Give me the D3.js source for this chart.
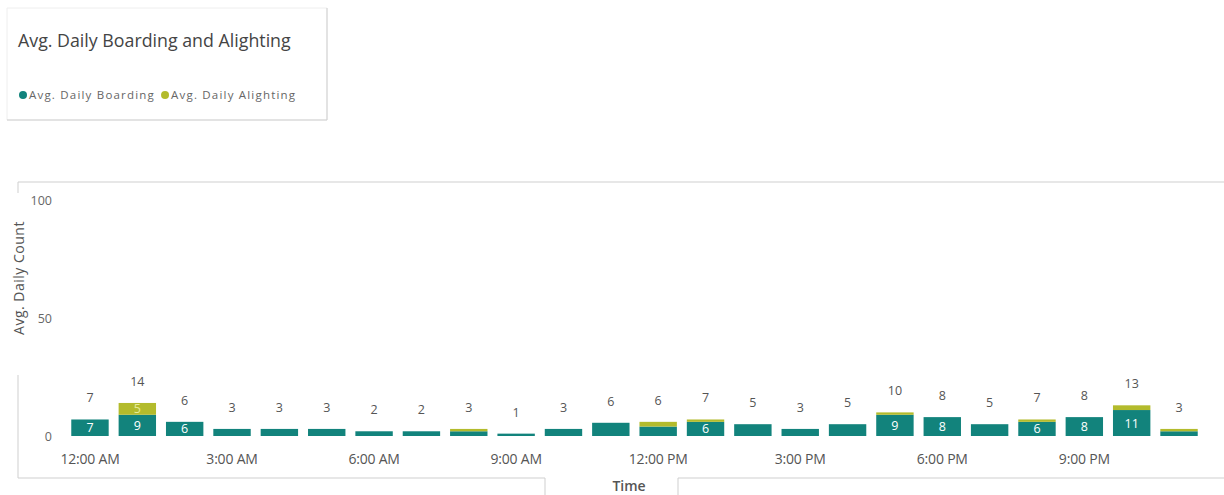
<!DOCTYPE html>
<html><head><meta charset="utf-8">
<script src="https://cdn.jsdelivr.net/npm/d3@7"></script>
<style>body{margin:0;background:#fff;}svg{display:block;font-family:"Open Sans",sans-serif;}</style>
</head><body>
<svg id="c" width="1224" height="495"></svg>
<script>
const hours = ["12:00 AM","1:00 AM","2:00 AM","3:00 AM","4:00 AM","5:00 AM","6:00 AM","7:00 AM","8:00 AM","9:00 AM","10:00 AM","11:00 AM","12:00 PM","1:00 PM","2:00 PM","3:00 PM","4:00 PM","5:00 PM","6:00 PM","7:00 PM","8:00 PM","9:00 PM","10:00 PM","11:00 PM"];
const boarding  = [7, 9, 6, 3, 3, 3, 2, 2, 2, 1, 3, 5.6, 4, 6, 5, 3, 5, 9, 8, 5, 6, 8, 11, 2];
const alighting = [0, 5, 0, 0, 0, 0, 0, 0, 1, 0, 0, 0, 2, 1, 0, 0, 0, 1, 0, 0, 1, 0, 2, 1];
const tickHours = ["12:00 AM","3:00 AM","6:00 AM","9:00 AM","12:00 PM","3:00 PM","6:00 PM","9:00 PM"];
const yTicks = [0, 50, 100];
const seriesNames = ["Avg. Daily Boarding","Avg. Daily Alighting"];
const colors = ["#12837c","#b3bb2c"];

const svg = d3.select("#c");
const grey = "#cfcfcf";

// legend card
svg.append("path").attr("d","M7,8 H327 V120 H7 Z").attr("fill","none").attr("stroke","#eeeeee");
svg.append("path").attr("d","M327,8 V120 H7").attr("fill","none").attr("stroke",grey);
svg.append("text").attr("x",18).attr("y",47).attr("font-size",17.8).attr("fill","#444")
  .text("Avg. Daily Boarding and Alighting");
const lg = svg.append("g").attr("font-size",11.5).attr("fill","#666").attr("letter-spacing",1.2);
let lx = 23;
seriesNames.forEach((n,i)=>{
  lg.append("circle").attr("cx",lx).attr("cy",95).attr("r",4).attr("fill",colors[i]);
  const t = lg.append("text").attr("x",lx+6).attr("y",99).text(n);
  lx += 6 + t.node().getComputedTextLength() + 10;
});

// frame
svg.append("path").attr("d","M18,193 V182 H1224").attr("fill","none").attr("stroke",grey);
svg.append("path").attr("d","M18,375 V478 H545 V495 M678,495 V478 H1224").attr("fill","none").attr("stroke",grey);

// scales
const x = d3.scaleBand().domain(hours).range([66.3,1202.7]).paddingInner(0.21).paddingOuter(0.105);
const y = d3.scaleLinear().domain([0,100]).range([436,200]);

// y axis
const ya = svg.append("g").attr("transform","translate(52,0)")
  .call(d3.axisLeft(y).tickValues(yTicks).tickSize(0).tickPadding(0));
ya.select(".domain").remove();
ya.selectAll("text").attr("font-family","Open Sans").attr("font-size",12.5).attr("fill","#666").attr("dy","0.35em");

svg.append("text").attr("transform","translate(24,278) rotate(-90)").attr("text-anchor","middle")
  .attr("font-size",14).attr("letter-spacing",0.5).attr("fill","#555").text("Avg. Daily Count");

// x axis
const xa = svg.append("g").attr("transform","translate(0,436)")
  .call(d3.axisBottom(x).tickValues(tickHours).tickSize(0).tickPadding(18));
xa.select(".domain").remove();
xa.selectAll("text").attr("font-family","Open Sans").attr("font-size",14).attr("fill","#555").attr("letter-spacing","-0.2");

svg.append("text").attr("x",629).attr("y",491).attr("text-anchor","middle")
  .attr("font-size",14).attr("font-weight",600).attr("fill","#555").text("Time");

// bars
const rows = hours.map((h,i)=>({h, b:boarding[i], a:alighting[i]}));
const g = svg.append("g");
g.selectAll(".b").data(rows).join("rect")
  .attr("x",d=>x(d.h)).attr("width",x.bandwidth())
  .attr("y",d=>y(d.b)).attr("height",d=>y(0)-y(d.b)).attr("fill",colors[0]);
g.selectAll(".a").data(rows.filter(d=>d.a>0)).join("rect")
  .attr("x",d=>x(d.h)).attr("width",x.bandwidth())
  .attr("y",d=>y(d.b+d.a)).attr("height",d=>y(d.b)-y(d.b+d.a)).attr("fill",colors[1]);

// inner labels
g.selectAll(".ib").data(rows.filter(d=>d.b>=6)).join("text")
  .attr("x",d=>x(d.h)+x.bandwidth()/2).attr("y",d=>(y(d.b)+y(0))/2+4.5)
  .attr("text-anchor","middle").attr("font-size",12.5).attr("fill","#fff").text(d=>Math.round(d.b));
g.selectAll(".ia").data(rows.filter(d=>d.a>=5)).join("text")
  .attr("x",d=>x(d.h)+x.bandwidth()/2).attr("y",d=>(y(d.b)+y(d.b+d.a))/2+4.5)
  .attr("text-anchor","middle").attr("font-size",12.5).attr("fill","#e8ec9a").text(d=>Math.round(d.a));
// totals
g.selectAll(".t").data(rows).join("text")
  .attr("x",d=>x(d.h)+x.bandwidth()/2).attr("y",d=>y(d.b+d.a)-17)
  .attr("text-anchor","middle").attr("font-size",12.5).attr("fill","#555").text(d=>Math.round(d.b+d.a));
</script>
</body></html>
